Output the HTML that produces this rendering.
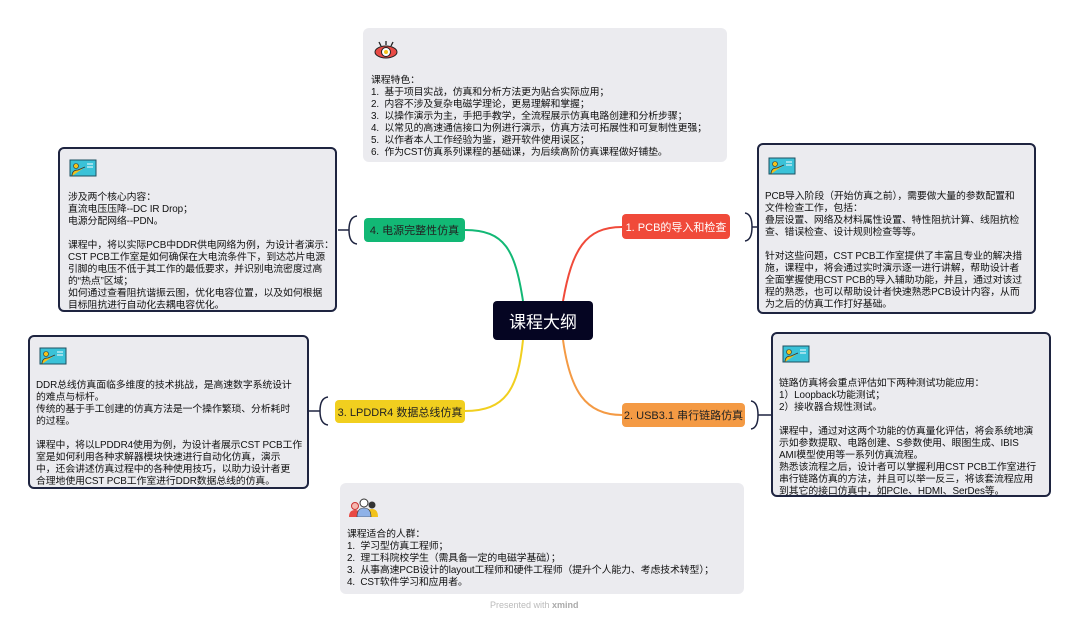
<!DOCTYPE html>
<html><head><meta charset="utf-8"><style>
*{margin:0;padding:0;box-sizing:border-box}
body{width:1080px;height:623px;background:#fff;position:relative;overflow:hidden;font-family:"Liberation Sans","Noto Sans CJK SC",sans-serif}
.box{position:absolute;background:#ebebef;border-radius:6px;font-size:9.9px;line-height:12px;color:#111;white-space:pre;letter-spacing:-0.1px}
.b{border:2px solid #1e2440}
.t{position:absolute}
.node{position:absolute;border-radius:4px;font-size:11px;display:flex;align-items:center;justify-content:center;color:#222}
svg.ov{position:absolute;left:0;top:0}
</style></head><body>
<svg class="ov" width="1080" height="623">
<g fill="none" stroke-width="2">
<path d="M523 301 C515 250,505 230,465 230" stroke="#12b875"/>
<path d="M563 301 C572 250,585 227,622 227" stroke="#f04a3a"/>
<path d="M523 340 C518 390,505 411,465 411" stroke="#f1cf1f"/>
<path d="M563 340 C570 390,585 415,622 415" stroke="#f49a44"/>
</g>
<g fill="none" stroke="#1e2440" stroke-width="1.5">
<path d="M357 216 Q349 217,349 230 Q349 243,357 244 M349 230 H338"/>
<path d="M745 213 Q752 214,752 227 Q752 240,745 241 M752 227 H757"/>
<path d="M751 401 Q758 402,758 415 Q758 428,751 429 M758 415 H771"/>
<path d="M328 397 Q320 398,320 411 Q320 424,328 425 M320 411 H309"/>
</g>
</svg>

<div class="box" style="left:363px;top:28px;width:364px;height:134px;padding:47px 0 0 8px">课程特色：
1.  基于项目实战，仿真和分析方法更为贴合实际应用；
2.  内容不涉及复杂电磁学理论，更易理解和掌握；
3.  以操作演示为主，手把手教学，全流程展示仿真电路创建和分析步骤；
4.  以常见的高速通信接口为例进行演示，仿真方法可拓展性和可复制性更强；
5.  以作者本人工作经验为鉴，避开软件使用误区；
6.  作为CST仿真系列课程的基础课，为后续高阶仿真课程做好铺垫。</div>
<svg class="t" style="left:372px;top:40px" width="28" height="20"><g stroke="#222" stroke-width="1.3"><line x1="14" y1="1" x2="14" y2="5"/><line x1="7" y1="2" x2="9" y2="6"/><line x1="21" y1="2" x2="19" y2="6"/></g><ellipse cx="14" cy="12" rx="11" ry="6" fill="#e84a45" stroke="#222"/><circle cx="14" cy="12" r="4.5" fill="#fff" stroke="#222"/><circle cx="14" cy="12" r="2" fill="#f2c21b"/></svg>

<div class="box b" style="left:58px;top:147px;width:279px;height:165px;padding:43px 0 0 8px">涉及两个核心内容：
直流电压压降--DC IR Drop；
电源分配网络--PDN。

课程中，将以实际PCB中DDR供电网络为例，为设计者演示：
CST PCB工作室是如何确保在大电流条件下，到达芯片电源
引脚的电压不低于其工作的最低要求，并识别电流密度过高
的“热点”区域；
如何通过查看阻抗谐振云图，优化电容位置，以及如何根据
目标阻抗进行自动化去耦电容优化。</div>

<div class="box b" style="left:757px;top:143px;width:279px;height:171px;padding:46px 0 0 6px">PCB导入阶段（开始仿真之前），需要做大量的参数配置和
文件检查工作，包括：
叠层设置、网络及材料属性设置、特性阻抗计算、线阻抗检
查、错误检查、设计规则检查等等。

针对这些问题，CST PCB工作室提供了丰富且专业的解决措
施，课程中，将会通过实时演示逐一进行讲解，帮助设计者
全面掌握使用CST PCB的导入辅助功能，并且，通过对该过
程的熟悉，也可以帮助设计者快速熟悉PCB设计内容，从而
为之后的仿真工作打好基础。</div>

<div class="box b" style="left:28px;top:335px;width:281px;height:154px;padding:43px 0 0 6px">DDR总线仿真面临多维度的技术挑战，是高速数字系统设计
的难点与标杆。
传统的基于手工创建的仿真方法是一个操作繁琐、分析耗时
的过程。

课程中，将以LPDDR4使用为例，为设计者展示CST PCB工作
室是如何利用各种求解器模块快速进行自动化仿真，演示
中，还会讲述仿真过程中的各种使用技巧，以助力设计者更
合理地使用CST PCB工作室进行DDR数据总线的仿真。</div>

<div class="box b" style="left:771px;top:332px;width:280px;height:165px;padding:44px 0 0 6px">链路仿真将会重点评估如下两种测试功能应用：
1）Loopback功能测试；
2）接收器合规性测试。

课程中，通过对这两个功能的仿真量化评估，将会系统地演
示如参数提取、电路创建、S参数使用、眼图生成、IBIS
AMI模型使用等一系列仿真流程。
熟悉该流程之后，设计者可以掌握利用CST PCB工作室进行
串行链路仿真的方法，并且可以举一反三，将该套流程应用
到其它的接口仿真中，如PCIe、HDMI、SerDes等。</div>

<div class="box" style="left:340px;top:483px;width:404px;height:111px;padding:46px 0 0 7px">课程适合的人群：
1.  学习型仿真工程师；
2.  理工科院校学生（需具备一定的电磁学基础）；
3.  从事高速PCB设计的layout工程师和硬件工程师（提升个人能力、考虑技术转型）；
4.  CST软件学习和应用者。</div>

<svg class="t" style="left:69px;top:159px" width="28" height="18"><rect x="1" y="1" width="26" height="16" fill="#3ac2d8" stroke="#1e5060"/><circle cx="7" cy="7" r="2.5" fill="#f2c21b" stroke="#333" stroke-width=".6"/><path d="M3 17 Q3 11,9 11 L16 8" stroke="#333" stroke-width=".8" fill="#f2c21b"/><g stroke="#fff"><line x1="18" y1="5" x2="24" y2="5"/><line x1="18" y1="8" x2="24" y2="8"/></g></svg>
<svg class="t" style="left:768px;top:157px" width="28" height="18"><rect x="1" y="1" width="26" height="16" fill="#3ac2d8" stroke="#1e5060"/><circle cx="7" cy="7" r="2.5" fill="#f2c21b" stroke="#333" stroke-width=".6"/><path d="M3 17 Q3 11,9 11 L16 8" stroke="#333" stroke-width=".8" fill="#f2c21b"/><g stroke="#fff"><line x1="18" y1="5" x2="24" y2="5"/><line x1="18" y1="8" x2="24" y2="8"/></g></svg>
<svg class="t" style="left:39px;top:347px" width="28" height="18"><rect x="1" y="1" width="26" height="16" fill="#3ac2d8" stroke="#1e5060"/><circle cx="7" cy="7" r="2.5" fill="#f2c21b" stroke="#333" stroke-width=".6"/><path d="M3 17 Q3 11,9 11 L16 8" stroke="#333" stroke-width=".8" fill="#f2c21b"/><g stroke="#fff"><line x1="18" y1="5" x2="24" y2="5"/><line x1="18" y1="8" x2="24" y2="8"/></g></svg>
<svg class="t" style="left:782px;top:345px" width="28" height="18"><rect x="1" y="1" width="26" height="16" fill="#3ac2d8" stroke="#1e5060"/><circle cx="7" cy="7" r="2.5" fill="#f2c21b" stroke="#333" stroke-width=".6"/><path d="M3 17 Q3 11,9 11 L16 8" stroke="#333" stroke-width=".8" fill="#f2c21b"/><g stroke="#fff"><line x1="18" y1="5" x2="24" y2="5"/><line x1="18" y1="8" x2="24" y2="8"/></g></svg>
<svg class="t" style="left:348px;top:497px" width="32" height="20"><circle cx="7" cy="9" r="3.5" fill="#f5b8b0" stroke="#c33"/><path d="M1 20 Q1 13,7 13 Q13 13,13 20Z" fill="#e84a45"/><circle cx="24" cy="8" r="3.5" fill="#333"/><path d="M18 20 Q18 12,24 12 Q30 12,30 20Z" fill="#f2c21b"/><circle cx="16" cy="6" r="4" fill="#fff" stroke="#333"/><path d="M9 20 Q9 11,16 11 Q23 11,23 20Z" fill="#8fb2e8" stroke="#333" stroke-width=".6"/></svg>

<div class="node" style="left:493px;top:301px;width:100px;height:39px;background:#050522;color:#fff;font-size:17px;border-radius:4px">课程大纲</div>
<div class="node" style="left:364px;top:218px;width:101px;height:24px;background:#12b875">4. 电源完整性仿真</div>
<div class="node" style="left:622px;top:214px;width:108px;height:25px;background:#f04a3a;color:#fff">1. PCB的导入和检查</div>
<div class="node" style="left:335px;top:400px;width:130px;height:23px;background:#f1cf1f">3. LPDDR4 数据总线仿真</div>
<div class="node" style="left:622px;top:403px;width:123px;height:24px;background:#f49a44">2. USB3.1 串行链路仿真</div>

<div class="t" style="left:490px;top:600px;font-size:9px;color:#bbb">Presented with <b style="color:#aaa">xmind</b></div>
</body></html>
